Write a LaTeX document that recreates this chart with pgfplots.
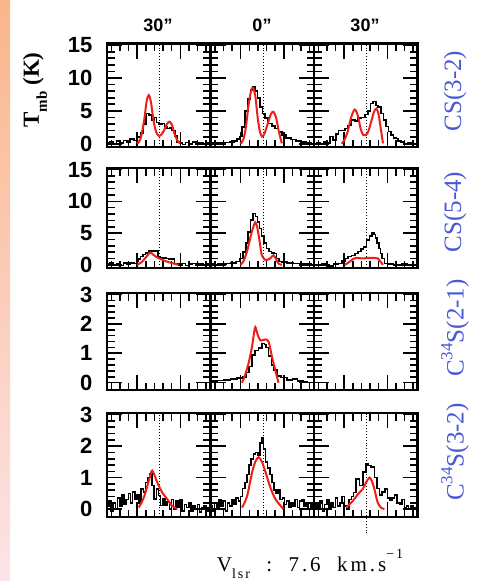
\documentclass[border=0pt]{standalone}
\usepackage{pgfplots}
\pgfplotsset{compat=1.18}
\usepackage{fontspec}
\setmainfont{Liberation Serif}
\newfontfamily\hv{Liberation Sans}
\newfontfamily\wide[LetterSpace=14]{Liberation Serif}

\definecolor{labblue}{RGB}{72,88,214}
\definecolor{fitred}{RGB}{236,32,22}
\definecolor{stripA}{RGB}{250,182,138}
\definecolor{stripB}{RGB}{253,214,168}
\definecolor{stripC}{RGB}{252,228,232}

\pgfplotsset{
  panel/.style={
    scale only axis, width=103.5pt,
    xmin=1.5, xmax=13.5,
    xtick={5,10}, minor xtick={2,3,4,6,7,8,9,11,12,13},
    xticklabels={}, yticklabels={},
    tick align=inside,
    major tick length=15pt, minor tick length=7.5pt,
    every tick/.append style={black, line width=1.6pt},
    axis line style={line width=2.2pt},
  },
  big/.style={ymin=-0.5, ymax=15.25, ytick={0,5,10,15},
    minor ytick={1,2,3,4,6,7,8,9,11,12,13,14}},
  small/.style={ymin=-0.25, ymax=3.05, ytick={0,1,2,3},
    minor ytick={0.2,0.4,0.6,0.8,1.2,1.4,1.6,1.8,2.2,2.4,2.6,2.8}},
  leftlab/.style={yticklabel style={font=\hv\bfseries\fontsize{22}{22}\selectfont, xshift=-11pt}},
  blk/.style={black, line width=1.6pt, const plot mark mid},
  fit/.style={fitred, line width=2pt, smooth},
  vref/.style={black, line width=0.9pt, dash pattern=on 0.9pt off 2pt},
}

\begin{document}
\begin{tikzpicture}
\fill[white] (0,0) rectangle (477pt,-581pt);
\shade[top color=stripA, middle color=stripB, bottom color=stripC] (0,0) rectangle (10pt,-581pt);
\path[use as bounding box] (0,0) rectangle (477pt,-581pt);

% offsets above the columns
\node[font=\hv\bfseries\fontsize{18}{18}\selectfont] at (158pt,-25pt) {30”};
\node[font=\hv\bfseries\fontsize{18}{18}\selectfont] at (262pt,-25pt) {0”};
\node[font=\hv\bfseries\fontsize{18}{18}\selectfont] at (365pt,-25pt) {30”};

% vertical axis title
\node[rotate=90, font=\bfseries\fontsize{23}{23}\selectfont] at (35pt,-90pt)
  {T\raisebox{-0.35em}{\fontsize{15}{15}\selectfont mb} (K)};

% line names
\node[rotate=90, text=labblue, font=\fontsize{25}{25}\selectfont] at (455pt,-91pt) {CS(3-2)};
\node[rotate=90, text=labblue, font=\fontsize{25}{25}\selectfont] at (455pt,-212pt) {CS(5-4)};
\node[rotate=90, text=labblue, font=\fontsize{25}{25}\selectfont] at (455pt,-328pt)
  {C\raisebox{0.45em}{\fontsize{17}{17}\selectfont 34}S(2-1)};
\node[rotate=90, text=labblue, font=\fontsize{25}{25}\selectfont] at (455pt,-452pt)
  {C\raisebox{0.45em}{\fontsize{17}{17}\selectfont 34}S(3-2)};

% systemic velocity
\node[font=\wide\fontsize{21}{21}\selectfont] at (310pt,-564pt)
  {V\raisebox{-0.35em}{\fontsize{14}{14}\selectfont lsr}\ \ :\ \ 7.6\ \ km.s\raisebox{0.6em}{\fontsize{14}{14}\selectfont −1}};

% ---------------- CS(3-2) ----------------
\begin{axis}[panel, big, leftlab, yticklabels={0,5,10,15}, at={(107pt,-43.5pt)}, anchor=north west, height=103.5pt]
\addplot[vref] coordinates {(7.6,-0.5) (7.6,15.25)};
\addplot[blk] coordinates {(1.6,0.1) (2.0,0.3) (2.4,0.0) (2.8,0.4) (3.2,0.1) (3.6,0.5) (4.0,0.2) (4.4,0.7) (4.8,0.5) (5.2,1.0) (5.6,1.6) (5.9,3.0) (6.2,4.6) (6.5,4.4) (6.8,3.6) (7.1,4.0) (7.4,3.2) (7.7,3.0) (8.0,3.1) (8.3,2.6) (8.6,2.3) (8.9,2.4) (9.2,2.0) (9.5,1.2) (9.8,0.3) (10.1,0.1) (10.4,-0.1) (10.8,0.2) (11.2,0.0) (11.6,0.3) (12.0,0.0) (12.4,0.2) (12.8,-0.1) (13.2,0.1) (13.45,0.0)};
\addplot[fit] coordinates {(5.0,0) (5.4,0.8) (5.8,3.5) (6.1,6.5) (6.35,7.4) (6.6,6.3) (6.9,3.5) (7.2,1.8) (7.5,1.2) (7.8,1.4) (8.1,2.0) (8.45,3.0) (8.75,3.35) (9.05,2.8) (9.35,1.4) (9.7,0.4) (10.0,0.05)};
\end{axis}

\begin{axis}[panel, big, at={(210.5pt,-43.5pt)}, anchor=north west, height=103.5pt]
\addplot[vref] coordinates {(7.6,-0.5) (7.6,15.25)};
\addplot[blk] coordinates {(1.6,0.0) (2.0,0.1) (2.5,0.1) (3.0,0.2) (3.5,0.2) (4.0,0.3) (4.4,0.4) (4.7,0.7) (5.0,1.1) (5.3,2.5) (5.7,5.0) (6.0,6.8) (6.3,8.2) (6.5,8.7) (6.8,8.0) (7.1,7.0) (7.4,5.6) (7.7,4.6) (8.0,3.9) (8.4,3.1) (8.8,2.7) (9.2,2.3) (9.6,1.8) (10.0,1.3) (10.5,0.9) (11.1,0.65) (11.7,0.45) (12.3,0.3) (12.9,0.15) (13.4,0.05)};
\addplot[fit] coordinates {(4.96,0) (5.3,0.6) (5.6,2.5) (5.9,5.8) (6.2,8.0) (6.43,8.5) (6.7,7.2) (6.95,4.2) (7.2,2.0) (7.46,1.1) (7.75,1.5) (8.1,2.9) (8.5,4.5) (8.8,4.85) (9.1,4.0) (9.4,2.0) (9.77,0.05)};
\end{axis}

\begin{axis}[panel, big, at={(314pt,-43.5pt)}, anchor=north west, height=103.5pt]
\addplot[vref] coordinates {(7.6,-0.5) (7.6,15.25)};
\addplot[blk] coordinates {(1.6,0.0) (2.0,0.2) (2.4,0.0) (2.8,0.3) (3.2,0.1) (3.5,1.1) (3.9,0.6) (4.2,1.5) (4.5,2.0) (4.9,2.0) (5.27,2.3) (5.6,2.8) (6.04,3.6) (6.4,3.5) (6.8,3.9) (7.2,4.0) (7.58,4.45) (7.9,5.0) (8.16,6.1) (8.54,6.4) (8.8,5.8) (9.1,5.6) (9.4,4.6) (9.7,3.6) (10.0,2.6) (10.27,1.85) (10.55,1.3) (10.85,0.9) (11.1,0.8) (11.4,0.4) (11.8,0.3) (12.2,0.05) (12.6,0.1) (13.0,-0.1) (13.4,0.0)};
\addplot[fit] coordinates {(4.7,0) (5.0,0.5) (5.4,1.8) (5.8,4.0) (6.23,5.2) (6.6,4.2) (6.9,2.3) (7.2,1.35) (7.5,1.3) (7.8,1.9) (8.1,3.2) (8.45,4.8) (8.73,5.35) (9.0,4.4) (9.25,2.2) (9.5,0.05)};
\end{axis}

% ---------------- CS(5-4) ----------------
\begin{axis}[panel, big, leftlab, yticklabels={0,5,10,15}, at={(107pt,-168pt)}, anchor=north west, height=100pt]
\addplot[vref] coordinates {(7.6,-0.5) (7.6,15.25)};
\addplot[blk] coordinates {(1.6,0.1) (2.0,0.3) (2.4,0.0) (2.8,0.2) (3.2,-0.1) (3.6,0.3) (4.0,0.1) (4.4,0.3) (4.8,0.2) (5.0,0.6) (5.25,0.9) (5.5,1.3) (5.8,1.6) (6.1,1.9) (6.55,2.2) (7.0,2.2) (7.3,2.2) (7.5,1.2) (7.9,1.1) (8.2,1.1) (8.5,1.0) (8.8,0.9) (9.24,0.9) (9.44,0.2) (9.7,0.1) (10.0,0.0) (10.4,0.2) (10.8,-0.1) (11.2,0.1) (11.6,0.2) (12.0,0.0) (12.4,0.2) (12.8,0.0) (13.2,0.1) (13.45,0.0)};
\addplot[fit] coordinates {(5.0,0) (5.5,0.4) (5.9,1.0) (6.25,1.6) (6.55,1.95) (6.85,1.6) (7.2,1.25) (7.5,1.05) (7.9,0.8) (8.47,0.5) (9.1,0.25) (9.8,0)};
\end{axis}

\begin{axis}[panel, big, at={(210.5pt,-168pt)}, anchor=north west, height=100pt]
\addplot[vref] coordinates {(7.6,-0.5) (7.6,15.25)};
\addplot[blk] coordinates {(1.6,0.1) (2.1,0.0) (2.6,0.2) (3.1,0.1) (3.6,0.2) (4.2,0.3) (4.7,0.5) (5.15,1.0) (5.45,2.0) (5.73,3.4) (6.0,5.2) (6.31,7.1) (6.6,8.1) (6.85,7.6) (7.08,6.7) (7.27,5.7) (7.55,4.5) (7.85,3.4) (8.15,2.6) (8.42,2.1) (8.7,1.9) (9.0,1.8) (9.3,1.0) (9.58,0.5) (10.0,0.4) (10.73,0.3) (11.5,0.2) (12.27,0.1) (13.0,0.1) (13.4,0.0)};
\addplot[fit] coordinates {(4.96,0) (5.3,0.5) (5.73,2.1) (6.0,3.6) (6.31,5.3) (6.69,6.7) (6.9,6.0) (7.08,4.7) (7.27,3.0) (7.46,1.5) (7.85,0.75) (8.1,0.8) (8.42,1.0) (8.8,1.5) (9.1,0.9) (9.38,0.2) (9.77,0)};
\end{axis}

\begin{axis}[panel, big, at={(314pt,-168pt)}, anchor=north west, height=100pt]
\addplot[vref] coordinates {(7.6,-0.5) (7.6,15.25)};
\addplot[blk] coordinates {(1.6,0.0) (2.19,0.0) (2.6,0.2) (3.0,0.0) (3.54,-0.2) (4.0,0.1) (4.5,0.2) (5.0,0.6) (5.27,1.0) (5.65,1.3) (6.04,1.5) (6.42,1.8) (6.81,2.1) (7.1,2.5) (7.38,2.8) (7.77,3.9) (8.1,4.5) (8.35,5.0) (8.55,4.8) (8.73,4.2) (8.92,3.4) (9.12,2.6) (9.3,1.8) (9.5,1.0) (9.88,0.2) (10.4,0.1) (11.0,0.0) (11.4,0.0) (12.0,0.1) (12.5,0.0) (12.96,0.0) (13.4,0.0)};
\addplot[fit] coordinates {(5.08,0) (5.65,0.5) (6.0,0.9) (6.42,1.1) (6.8,1.05) (7.19,1.0) (7.5,1.05) (7.77,1.1) (8.1,1.1) (8.35,1.1) (8.7,1.05) (8.92,1.0) (9.2,0.5) (9.5,0)};
\end{axis}

% ---------------- C34S(2-1) ----------------
\begin{axis}[panel, small, leftlab, yticklabels={0,1,2,3}, at={(107pt,-293pt)}, anchor=north west, height=97pt]
\end{axis}

\begin{axis}[panel, small, at={(210.5pt,-293pt)}, anchor=north west, height=97pt]
\addplot[blk] coordinates {(1.6,0.03) (1.88,0.05) (2.6,0.08) (3.42,0.1) (4.2,0.12) (4.96,0.15) (5.54,0.2) (5.85,0.35) (6.12,0.55) (6.5,0.95) (6.88,1.1) (7.27,1.17) (7.65,1.33) (7.85,1.3) (8.04,1.2) (8.42,0.9) (8.7,0.6) (9.0,0.44) (9.38,0.22) (9.96,0.17) (10.73,0.1) (11.3,0.12) (11.88,0.06) (12.5,0.03) (13.0,0.0) (13.4,0.0)};
\addplot[fit] coordinates {(5.15,0) (5.5,0.25) (5.92,0.67) (6.31,1.22) (6.5,1.6) (6.69,1.89) (6.95,1.65) (7.27,1.44) (7.6,1.45) (7.85,1.47) (8.23,1.4) (8.62,0.89) (9.0,0.44) (9.38,0)};
\end{axis}

\begin{axis}[panel, small, at={(314pt,-293pt)}, anchor=north west, height=97pt]
\end{axis}

% ---------------- C34S(3-2) ----------------
\begin{axis}[panel, small, leftlab, yticklabels={0,1,2,3}, at={(107pt,-413pt)}, anchor=north west, height=104pt]
\addplot[vref] coordinates {(7.6,-0.25) (7.6,3.05)};
\addplot[blk] coordinates {(1.6,0.1) (1.85,0.25) (2.1,-0.05) (2.35,0.2) (2.6,0.0) (2.85,0.35) (3.1,0.1) (3.35,0.45) (3.6,0.15) (3.85,0.3) (4.1,0.5) (4.35,0.2) (4.6,0.55) (4.85,0.3) (5.1,0.45) (5.35,0.2) (5.6,0.64) (5.85,0.55) (6.1,0.85) (6.35,1.0) (6.6,1.12) (6.85,0.75) (7.1,0.33) (7.35,0.64) (7.6,0.43) (7.85,0.12) (8.1,0.33) (8.35,0.12) (8.6,0.22) (8.85,0.0) (9.1,0.3) (9.35,0.0) (9.6,0.25) (9.85,0.05) (10.1,0.3) (10.35,-0.05) (10.6,0.15) (10.85,0.05) (11.1,0.2) (11.35,-0.05) (11.6,0.1) (11.85,0.0) (12.1,0.15) (12.35,-0.1) (12.6,0.05) (12.85,0.1) (13.1,-0.05) (13.35,0.05)};
\addplot[fit] coordinates {(5.19,0.05) (5.77,0.37) (6.35,0.9) (6.74,1.22) (7.32,0.85) (7.9,0.53) (8.48,0.32) (9.06,0.1) (9.64,0)};
\end{axis}

\begin{axis}[panel, small, at={(210.5pt,-413pt)}, anchor=north west, height=104pt]
\addplot[vref] coordinates {(7.6,-0.25) (7.6,3.05)};
\addplot[blk] coordinates {(1.6,0.1) (1.85,-0.05) (2.1,0.2) (2.35,0.05) (2.6,0.3) (2.85,0.1) (3.1,0.25) (3.35,-0.05) (3.6,0.2) (3.85,0.1) (4.1,0.3) (4.35,0.15) (4.6,0.35) (4.85,0.25) (5.1,0.4) (5.35,0.65) (5.6,0.85) (5.85,1.1) (6.1,1.4) (6.35,1.6) (6.6,1.75) (6.85,1.8) (7.1,1.7) (7.35,2.1) (7.55,2.25) (7.75,1.9) (8.0,1.5) (8.25,1.3) (8.5,1.1) (8.75,0.85) (9.0,0.6) (9.2,0.5) (9.45,0.6) (9.7,0.3) (9.95,0.35) (10.2,0.15) (10.45,0.25) (10.7,0.05) (10.95,0.2) (11.2,0.1) (11.45,0.3) (11.7,0.05) (11.95,0.25) (12.2,0.3) (12.45,0.1) (12.7,0.2) (12.95,0.0) (13.2,0.15) (13.4,0.05)};
\addplot[fit] coordinates {(5.15,0.05) (5.73,0.4) (6.31,1.15) (6.69,1.5) (7.08,1.65) (7.46,1.5) (7.85,1.2) (8.42,0.7) (9.0,0.33) (9.58,0.12) (9.96,0)};
\end{axis}

\begin{axis}[panel, small, clip=false, at={(314pt,-413pt)}, anchor=north west, height=104pt]
\addplot[vref] coordinates {(7.6,-0.77) (7.6,3.05)};
\addplot[blk] coordinates {(1.6,0.05) (1.85,0.2) (2.1,0.0) (2.35,0.25) (2.6,-0.05) (2.85,0.15) (3.1,0.3) (3.35,0.0) (3.6,0.2) (3.85,0.05) (4.1,0.35) (4.35,0.1) (4.65,0.2) (4.9,0.4) (5.15,0.1) (5.42,0.0) (5.7,0.3) (6.0,0.4) (6.19,0.53) (6.58,0.95) (6.96,0.75) (7.35,1.17) (7.65,1.44) (7.92,1.38) (8.31,1.33) (8.69,1.0) (8.96,0.65) (9.27,0.44) (9.55,0.55) (9.85,0.64) (10.15,0.35) (10.42,0.28) (10.7,0.35) (11.0,0.44) (11.3,0.2) (11.58,0.17) (11.85,0.3) (12.1,0.05) (12.35,0.1) (12.6,0.0) (12.85,0.1) (13.1,0.0) (13.35,0.05)};
\addplot[fit] coordinates {(5.23,0.05) (6.0,0.26) (6.58,0.47) (7.15,0.64) (7.54,0.85) (7.92,1.0) (8.19,0.9) (8.5,0.64) (8.88,0.21) (9.27,0.05) (9.66,0)};
\end{axis}
\end{tikzpicture}
\end{document}
